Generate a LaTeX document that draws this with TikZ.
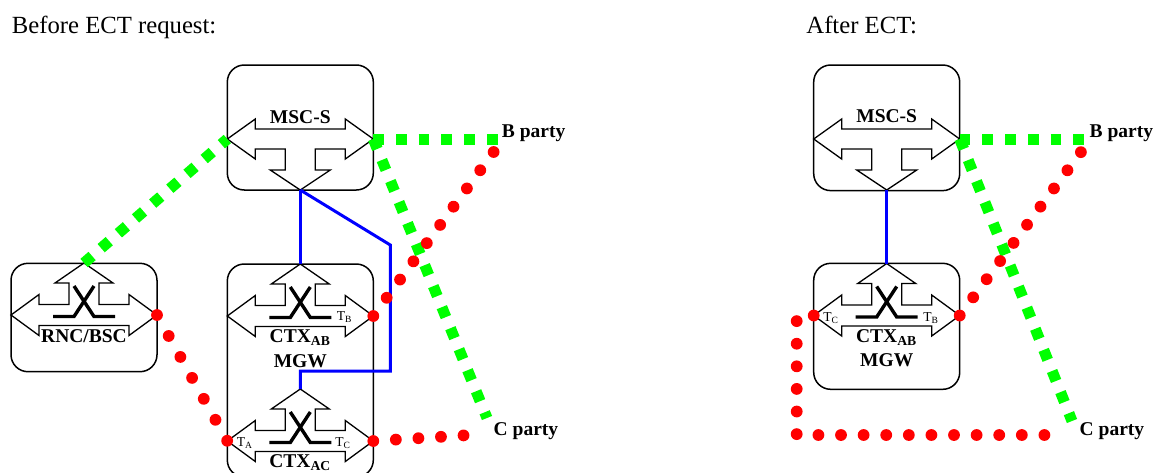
\documentclass[tikz,border=0pt]{standalone}
\usepackage{fontspec}
\setmainfont{Liberation Serif}
\definecolor{ctlblue}{RGB}{0,0,255}
\definecolor{siggreen}{RGB}{0,255,0}
\definecolor{bearred}{RGB}{255,0,0}

\tikzset{
  sym/.style={draw,line width=0.65pt,line join=miter},
  xbar/.style={line width=1.7pt},
  ctxsw/.pic={
    \draw[sym] (-73,0) -- (-45,-20.5) -- (-45,-10.5) -- (-15,-10.5) -- (-15,-32)
      -- (-29,-32) -- (0,-52) -- (29,-32) -- (15,-32) -- (15,-10.5) -- (45,-10.5)
      -- (45,-20.5) -- (73,0) -- (45,20.5) -- (45,10.5) -- (-45,10.5) -- (-45,20.5) -- cycle;
    \draw[xbar] (-31,1.5) -- (-10,1.5) -- (10,-29);
    \draw[xbar] (31,1.5) -- (10,1.5) -- (-10,-29);
    \coordinate (-l) at (-73,0);
    \coordinate (-r) at (73,0);
    \coordinate (-t) at (0,-52);
  },
  mscsw/.pic={
    \draw[sym] (-73,0) -- (-45,-20) -- (-45,-10) -- (45,-10) -- (45,-20) -- (73,0)
      -- (45,20) -- (45,10) -- (15,10) -- (15,31) -- (30,31) -- (0,51) -- (-30,31)
      -- (-15,31) -- (-15,10) -- (-45,10) -- (-45,20) -- cycle;
    \coordinate (-l) at (-73,0);
    \coordinate (-r) at (73,0);
    \coordinate (-b) at (0,51);
  }
}

\begin{document}
\begin{tikzpicture}[x=0.5pt,y=-0.5pt,
  box/.style={draw,line width=0.75pt,rounded corners=8.5pt,minimum width=73pt,inner sep=0pt},
  lbl/.style={font=\fontsize{9.75}{11}\selectfont\bfseries,inner sep=0pt},
  tag/.style={font=\fontsize{6.8}{7}\selectfont,inner sep=0pt,anchor=base west},
  title/.style={font=\fontsize{12.35}{14}\selectfont,inner sep=0pt,anchor=base west},
  ctl/.style={ctlblue,line width=1.5pt},
  sig/.style={siggreen,line width=5.5pt,dash pattern=on 5.35pt off 6pt},
  bear/.style={bearred,line width=5.9pt,line cap=round,dash pattern=on 0pt off #1},
  bear/.default=11.3pt]
  \useasboundingbox (0,0) rectangle (1154,472);
  \clip (0,0) rectangle (1154,472);

  \node[title] (before) at (11.5,33.3) {Before ECT request:};
  \node[title] (after) at (806,33.3) {After ECT:};

  % boxes
  \node[box,minimum height=62.5pt] (mscbox1) at (300.3,127.5) {};
  \node[box,minimum height=54.2pt] (rncbox) at (84,317.5) {};
  \node[box,minimum height=106.5pt] (mgwbox1) at (300.3,370.5) {};
  \node[box,minimum height=62.8pt] (mscbox2) at (886.7,127.8) {};
  \node[box,minimum height=63pt] (mgwbox2) at (886.7,326.3) {};

  % switches
  \pic (msc1) at (300.3,139) {mscsw};
  \pic (rnc) at (84,315) {ctxsw};
  \pic (ab1) at (300.3,316) {ctxsw};
  \pic (ac) at (300.3,441) {ctxsw};
  \pic (msc2) at (886.7,139) {mscsw};
  \pic (ab2) at (886.7,315.5) {ctxsw};

  \node[lbl,anchor=base] (msclbl1) at (300.3,123) {MSC-S};
  \node[lbl,anchor=base] (rnclbl) at (84,342) {RNC/BSC};
  \node[lbl,anchor=base] (ablbl1) at (300.3,342) {CTX\textsubscript{AB}};
  \node[lbl,anchor=base] (mgwlbl1) at (300.3,367) {MGW};
  \node[lbl,anchor=base] (aclbl) at (300.3,467) {CTX\textsubscript{AC}};
  \node[lbl,anchor=base] (msclbl2) at (886.7,122.5) {MSC-S};
  \node[lbl,anchor=base] (ablbl2) at (886.7,342) {CTX\textsubscript{AB}};
  \node[lbl,anchor=base] (mgwlbl2) at (886.7,366) {MGW};

  \node[tag] (tb1) at (336.5,320.5) {T\textsubscript{B}};
  \node[tag] (ta1) at (236.5,446) {T\textsubscript{A}};
  \node[tag] (tc1) at (335,446) {T\textsubscript{C}};
  \node[tag] (tc2) at (823,321) {T\textsubscript{C}};
  \node[tag] (tb2) at (923,321) {T\textsubscript{B}};

  \node[lbl,anchor=base west] (bparty1) at (501.5,137.5) {B party};
  \node[lbl,anchor=base west] (cparty1) at (493.3,435) {C party};
  \node[lbl,anchor=base west] (bparty2) at (1089.3,137.5) {B party};
  \node[lbl,anchor=base west] (cparty2) at (1079.3,435) {C party};

  \coordinate (bg1) at (498,139);
  \coordinate (cg1) at (487,418);
  \coordinate (br1) at (494,151.5);
  \coordinate (cr1) at (486,434);
  \coordinate (bg2) at (1085,139);
  \coordinate (cg2) at (1072,421);
  \coordinate (br2) at (1081,152);
  \coordinate (cr2) at (1050,435);

  % control links
  \draw[ctl] (msc1-b) -- (ab1-t);
  \draw[ctl] (msc1-b) -- ++(90,55) -- ++(0,126) -| (ac-t);
  \draw[ctl] (msc2-b) -- (ab2-t);

  % signalling
  \draw[sig] (rnc-t) -- (msc1-l);
  \draw[sig] (msc1-r) -- (bg1);
  \draw[sig] (msc1-r) -- (cg1);
  \draw[sig] (msc2-r) -- (bg2);
  \draw[sig] (msc2-r) -- (cg2);

  % bearers
  \draw[bear=12pt] (rnc-r) -- (ac-l);
  \draw[bear] (ab1-r) -- (br1);
  \draw[bear] (ac-r) -- (cr1);
  \draw[bear] (ab2-r) -- (br2);
  \draw[bear] (ab2-l) -- ++(-17,0) |- (cr2);
\end{tikzpicture}
\end{document}
